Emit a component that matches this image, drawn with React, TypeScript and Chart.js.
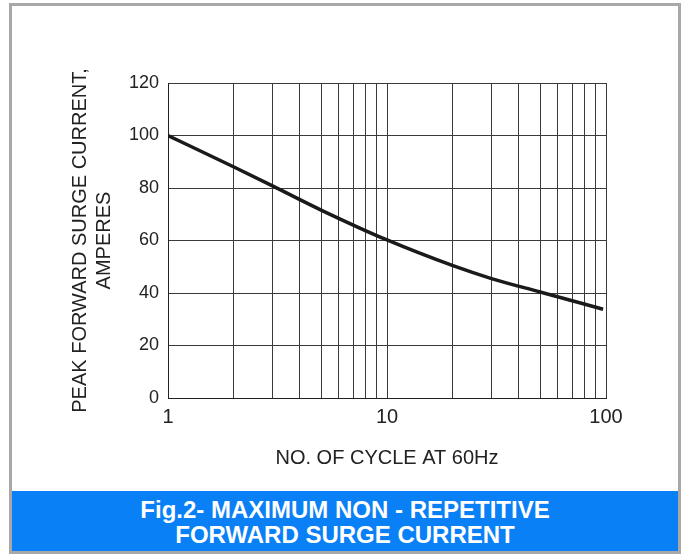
import React, { useEffect, useRef } from 'react';
import { Chart, registerables } from 'chart.js';

Chart.register(...registerables);

// ---- data ----
const cycles = [1, 2, 3, 5, 10, 20, 30, 50, 97];
const surgeAmps = [100, 88, 80.8, 71.6, 60.2, 50.4, 45.5, 40.4, 33.8];
const xGridValues = [1, 2, 3, 4, 5, 6, 7, 8, 9, 10, 20, 30, 40, 50, 60, 70, 80, 90, 100];
const xLabelValues = [1, 10, 100];
const yTickValues = [0, 20, 40, 60, 80, 100, 120];
const yTitleLines = ['PEAK FORWARD SURGE CURRENT,', 'AMPERES'];
const xTitle = 'NO. OF CYCLE AT 60Hz';
const captionLines = ['Fig.2- MAXIMUM NON - REPETITIVE', 'FORWARD SURGE CURRENT'];

const FONT = '"Liberation Sans", Arial, Helvetica, sans-serif';
const TEXT = '#222222';

export default function App() {
  const canvasRef = useRef<HTMLCanvasElement | null>(null);

  useEffect(() => {
    const canvas = canvasRef.current;
    if (!canvas) return;
    const chart = new Chart(canvas, {
      type: 'line',
      data: {
        datasets: [
          {
            data: cycles.map((x, i) => ({ x, y: surgeAmps[i] })),
            borderColor: '#1a1a1a',
            borderWidth: 3.5,
            pointRadius: 0,
            cubicInterpolationMode: 'monotone',
            fill: false,
          },
        ],
      },
      options: {
        responsive: false,
        animation: false,
        devicePixelRatio: 1,
        layout: { padding: { top: 83, right: 81, left: 0, bottom: 0 } },
        plugins: {
          legend: { display: false },
          tooltip: { enabled: false },
          title: { display: false },
        },
        scales: {
          x: {
            type: 'logarithmic',
            min: 1,
            max: 100,
            afterBuildTicks: (s: any) => {
              s.ticks = xGridValues.map((v) => ({ value: v }));
            },
            afterFit: (s: any) => {
              s.height = 156;
            },
            ticks: {
              autoSkip: false,
              maxRotation: 0,
              minRotation: 0,
              padding: 7,
              color: TEXT,
              font: { family: FONT, size: 20 },
              callback: (v: any) => (xLabelValues.includes(Number(v)) ? String(v) : ''),
            },
            grid: { color: '#3a3a3a', lineWidth: 1, drawTicks: false },
            border: { color: '#222', width: 1 },
            title: {
              display: true,
              text: xTitle,
              color: TEXT,
              font: { family: FONT, size: 20 },
              padding: { top: 0, bottom: 84 },
            },
          },
          y: {
            type: 'linear',
            min: 0,
            max: 120,
            afterBuildTicks: (s: any) => {
              s.ticks = yTickValues.map((v) => ({ value: v }));
            },
            afterFit: (s: any) => {
              s.width = 168;
            },
            ticks: {
              padding: 9,
              color: TEXT,
              font: { family: FONT, size: 18 },
            },
            grid: { color: '#3a3a3a', lineWidth: 1, drawTicks: false },
            border: { color: '#222', width: 1 },
            title: {
              display: true,
              text: yTitleLines,
              color: TEXT,
              font: { family: FONT, size: 20, lineHeight: 1.2 },
              padding: { top: 68, bottom: 0 },
            },
          },
        },
      },
    } as any);
    return () => chart.destroy();
  }, []);

  return (
    <div style={{ position: 'fixed', left: 0, top: 0, width: 687, height: 554, background: '#fff' }}>
      <div
        style={{
          position: 'absolute',
          left: 9,
          top: 3,
          width: 672,
          height: 551,
          border: '3px solid #a8a8a8',
          boxSizing: 'border-box',
        }}
      >
        <div
          style={{
            position: 'absolute',
            left: 0,
            right: 0,
            bottom: 0,
            height: 60,
            background: '#0a80f7',
            color: '#ffffff',
            fontFamily: FONT,
            fontWeight: 'bold',
            fontSize: 24,
            lineHeight: '25px',
            textAlign: 'center',
            paddingTop: 6,
            boxSizing: 'border-box',
          }}
        >
          {captionLines.map((l, i) => (
            <div key={i}>{l}</div>
          ))}
        </div>
      </div>
      <canvas
        ref={canvasRef}
        width={687}
        height={554}
        style={{ position: 'absolute', left: 0, top: 0 }}
      />
    </div>
  );
}
